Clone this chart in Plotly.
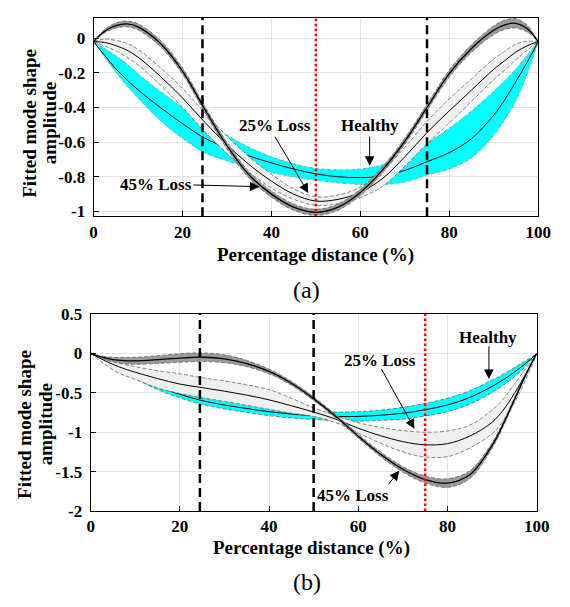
import plotly.graph_objects as go

# ---------------- data ----------------
x = [0, 2.5, 5, 7.5, 10, 15, 20, 25, 30, 35, 40, 45, 50, 55, 60, 65, 70, 75, 80, 85, 90, 92.5, 95, 97.5, 100]

# (a) top panel
a_healthy_mean = [-0.02, -0.10, -0.177, -0.24, -0.298, -0.40, -0.493, -0.577, -0.633, -0.68, -0.72, -0.755, -0.783, -0.80, -0.805, -0.795, -0.763, -0.713, -0.661, -0.58, -0.445, -0.355, -0.25, -0.14, -0.02]
a_healthy_up = [-0.02, -0.06, -0.102, -0.15, -0.205, -0.307, -0.40, -0.484, -0.56, -0.63, -0.685, -0.725, -0.752, -0.76, -0.755, -0.73, -0.68, -0.605, -0.52, -0.42, -0.307, -0.245, -0.177, -0.10, -0.02]
a_healthy_lo = [-0.02, -0.11, -0.195, -0.275, -0.345, -0.475, -0.577, -0.661, -0.708, -0.745, -0.775, -0.80, -0.82, -0.835, -0.845, -0.845, -0.83, -0.79, -0.755, -0.69, -0.56, -0.47, -0.36, -0.21, -0.02]

a_l25_mean = [-0.02, -0.025, -0.043, -0.07, -0.11, -0.22, -0.345, -0.485, -0.615, -0.73, -0.825, -0.90, -0.94, -0.93, -0.89, -0.81, -0.685, -0.545, -0.42, -0.30, -0.18, -0.13, -0.08, -0.045, -0.02]
a_l25_up = [-0.02, -0.005, -0.013, -0.03, -0.065, -0.17, -0.29, -0.43, -0.565, -0.685, -0.785, -0.87, -0.915, -0.905, -0.86, -0.765, -0.63, -0.48, -0.35, -0.235, -0.12, -0.075, -0.035, -0.018, -0.02]
a_l25_lo = [-0.02, -0.045, -0.073, -0.11, -0.155, -0.27, -0.40, -0.54, -0.665, -0.775, -0.865, -0.93, -0.965, -0.955, -0.92, -0.855, -0.74, -0.61, -0.49, -0.365, -0.24, -0.185, -0.125, -0.07, -0.02]

a_l45_mean = [-0.02, 0.04, 0.072, 0.082, 0.065, -0.03, -0.19, -0.41, -0.62, -0.79, -0.90, -0.975, -1.005, -0.975, -0.89, -0.76, -0.595, -0.40, -0.205, -0.06, 0.045, 0.077, 0.085, 0.055, -0.02]
a_l45_up = [-0.02, 0.05, 0.087, 0.099, 0.083, -0.012, -0.172, -0.392, -0.602, -0.772, -0.882, -0.957, -0.987, -0.957, -0.872, -0.742, -0.577, -0.382, -0.185, -0.038, 0.07, 0.104, 0.112, 0.075, -0.02]
a_l45_lo = [-0.02, 0.03, 0.057, 0.065, 0.047, -0.048, -0.208, -0.428, -0.638, -0.808, -0.918, -0.993, -1.023, -0.993, -0.908, -0.778, -0.613, -0.418, -0.225, -0.082, 0.02, 0.05, 0.058, 0.035, -0.02]

# (b) bottom panel
b_healthy_mean = [0.0, -0.075, -0.15, -0.22, -0.29, -0.42, -0.52, -0.60, -0.655, -0.70, -0.74, -0.77, -0.79, -0.80, -0.80, -0.785, -0.76, -0.715, -0.655, -0.56, -0.42, -0.335, -0.24, -0.13, -0.01]
b_healthy_up = [0.0, -0.065, -0.13, -0.195, -0.26, -0.38, -0.475, -0.55, -0.605, -0.65, -0.69, -0.72, -0.74, -0.745, -0.74, -0.72, -0.685, -0.635, -0.57, -0.475, -0.34, -0.265, -0.18, -0.095, -0.01]
b_healthy_lo = [0.0, -0.085, -0.17, -0.245, -0.32, -0.46, -0.565, -0.65, -0.705, -0.75, -0.79, -0.82, -0.84, -0.855, -0.86, -0.85, -0.835, -0.795, -0.74, -0.645, -0.50, -0.405, -0.30, -0.165, -0.01]

b_l25_mean = [0.0, -0.075, -0.14, -0.195, -0.24, -0.32, -0.39, -0.435, -0.48, -0.53, -0.59, -0.665, -0.745, -0.835, -0.95, -1.045, -1.12, -1.16, -1.145, -1.05, -0.875, -0.72, -0.51, -0.27, -0.01]
b_l25_up = [0.0, -0.055, -0.10, -0.14, -0.17, -0.22, -0.26, -0.31, -0.35, -0.40, -0.46, -0.57, -0.69, -0.79, -0.88, -0.94, -0.98, -1.00, -0.985, -0.91, -0.72, -0.58, -0.39, -0.20, -0.01]
b_l25_lo = [0.0, -0.11, -0.21, -0.28, -0.33, -0.44, -0.51, -0.565, -0.61, -0.66, -0.71, -0.76, -0.80, -0.88, -1.01, -1.14, -1.25, -1.315, -1.31, -1.20, -1.02, -0.86, -0.63, -0.34, -0.01]

b_l45_mean = [0.0, -0.05, -0.08, -0.093, -0.095, -0.08, -0.06, -0.05, -0.07, -0.13, -0.23, -0.38, -0.575, -0.80, -1.05, -1.28, -1.47, -1.60, -1.645, -1.54, -1.17, -0.90, -0.59, -0.28, 0.0]
b_l45_up = [0.0, -0.035, -0.05, -0.053, -0.05, -0.03, -0.005, 0.005, -0.02, -0.09, -0.20, -0.355, -0.553, -0.778, -1.025, -1.25, -1.435, -1.555, -1.59, -1.49, -1.135, -0.87, -0.568, -0.268, 0.0]
b_l45_lo = [0.0, -0.065, -0.11, -0.133, -0.14, -0.13, -0.115, -0.105, -0.12, -0.17, -0.26, -0.405, -0.597, -0.822, -1.075, -1.31, -1.505, -1.645, -1.70, -1.59, -1.205, -0.93, -0.612, -0.292, 0.0]

x_ticks = [0, 20, 40, 60, 80, 100]
a_y_ticks = [0, -0.2, -0.4, -0.6, -0.8, -1]
a_y_labels = ["0", "-0.2", "-0.4", "-0.6", "-0.8", "-1"]
b_y_ticks = [0.5, 0, -0.5, -1, -1.5, -2]
b_y_labels = ["0.5", "0", "-0.5", "-1", "-1.5", "-2"]

a_dashed_x = [24.5, 75]
a_dotted_x = [50]
b_dashed_x = [24.5, 50]
b_dotted_x = [75]

# ---------------- styling ----------------
FONT = "Liberation Serif, Times New Roman, serif"
CYAN = "#00ffff"
LIGHT = "#efefef"
DARK = "#9a9a9a"
EDGE = "#555555"

fig = go.Figure()


def add_band(up, lo, mean, fill, xa, ya, edge_color=EDGE, mean_w=1.0):
    fig.add_trace(go.Scatter(x=x, y=up, mode="lines", xaxis=xa, yaxis=ya,
                             line=dict(color=edge_color, width=0.7, dash="4px,2px", shape="spline"),
                             hoverinfo="skip", showlegend=False))
    fig.add_trace(go.Scatter(x=x, y=lo, mode="lines", xaxis=xa, yaxis=ya, fill="tonexty",
                             fillcolor=fill,
                             line=dict(color=edge_color, width=0.7, dash="4px,2px", shape="spline"),
                             hoverinfo="skip", showlegend=False))
    fig.add_trace(go.Scatter(x=x, y=mean, mode="lines", xaxis=xa, yaxis=ya,
                             line=dict(color="black", width=mean_w, shape="spline"),
                             hoverinfo="skip", showlegend=False))


add_band(a_healthy_up, a_healthy_lo, a_healthy_mean, CYAN, "x", "y", edge_color="#4aa0a0")
add_band(a_l25_up, a_l25_lo, a_l25_mean, LIGHT, "x", "y")
add_band(a_l45_up, a_l45_lo, a_l45_mean, DARK, "x", "y", mean_w=1.3)

add_band(b_healthy_up, b_healthy_lo, b_healthy_mean, CYAN, "x2", "y2")
add_band(b_l25_up, b_l25_lo, b_l25_mean, LIGHT, "x2", "y2")
add_band(b_l45_up, b_l45_lo, b_l45_mean, DARK, "x2", "y2", mean_w=1.3)

shapes = []
for xv in a_dashed_x:
    shapes.append(dict(type="line", xref="x", yref="y domain", x0=xv, x1=xv, y0=0, y1=1,
                       line=dict(color="black", width=2.5, dash="9px,5px")))
for xv in a_dotted_x:
    shapes.append(dict(type="line", xref="x", yref="y domain", x0=xv, x1=xv, y0=0, y1=1,
                       line=dict(color="red", width=2.5, dash="2.5px,2.5px")))
for xv in b_dashed_x:
    shapes.append(dict(type="line", xref="x2", yref="y2 domain", x0=xv, x1=xv, y0=0, y1=1,
                       line=dict(color="black", width=2.5, dash="9px,5px")))
for xv in b_dotted_x:
    shapes.append(dict(type="line", xref="x2", yref="y2 domain", x0=xv, x1=xv, y0=0, y1=1,
                       line=dict(color="red", width=2.5, dash="2.5px,2.5px")))

lab_font = dict(family=FONT, size=17, color="black", weight="bold")
ann = []


def label(text, xv, yv, xr, yr):
    ann.append(dict(text=text, x=xv, y=yv, xref=xr, yref=yr, showarrow=False,
                    font=lab_font, xanchor="center", yanchor="middle"))


def arrow(x0, y0, x1, y1, xr, yr):
    ann.append(dict(text="", x=x1, y=y1, ax=x0, ay=y0, xref=xr, yref=yr, axref=xr, ayref=yr,
                    showarrow=True, arrowhead=2, arrowsize=1.9, arrowwidth=1, arrowcolor="black"))


# panel (a)
label("25% Loss", 40.9, -0.503, "x", "y")
arrow(40.6, -0.56, 48.3, -0.894, "x", "y")
label("Healthy", 62.2, -0.503, "x", "y")
arrow(62.1, -0.56, 62.1, -0.736, "x", "y")
label("45% Loss", 14.0, -0.847, "x", "y")
arrow(22.1, -0.847, 37.3, -0.857, "x", "y")
# panel (b)
label("Healthy", 89.2, 0.198, "x2", "y2")
arrow(89.3, 0.107, 89.3, -0.327, "x2", "y2")
label("25% Loss", 64.9, -0.097, "x2", "y2")
arrow(65.0, -0.179, 72.6, -0.956, "x2", "y2")
label("45% Loss", 58.9, -1.80, "x2", "y2")
arrow(66.5, -1.68, 69.2, -1.49, "x2", "y2")

W, H = 570, 607
title_font = dict(family=FONT, size=19, color="black", weight="bold")


def paper_text(text, px, py, font, angle=0):
    ann.append(dict(text=text, x=px / W, y=1 - py / H, xref="paper", yref="paper", showarrow=False,
                    font=font, xanchor="center", yanchor="middle", textangle=angle))


paper_text("Percentage distance (%)", 320.8, 253.5, title_font)
paper_text("Percentage distance (%)", 316.7, 556, title_font)
paper_text("Fitted mode shape", 26, 118.3, title_font, -90)
paper_text("amplitude", 47, 118.3, title_font, -90)
paper_text("Fitted mode shape", 21, 429, title_font, -90)
paper_text("amplitude", 43, 429, title_font, -90)
paper_text("(a)", 312, 290, dict(family=FONT, size=24, color="black"))
paper_text("(b)", 312.5, 591, dict(family=FONT, size=24, color="black"))

tick_font = dict(family=FONT, size=17, color="black", weight="bold")
axis_common = dict(showline=True, linecolor="black", linewidth=1, mirror=True,
                   ticks="inside", ticklen=5, tickcolor="black",
                   showgrid=True, gridcolor="#e3e3e3", gridwidth=1,
                   zeroline=False, tickfont=tick_font)

fig.update_layout(
    width=W, height=H,
    margin=dict(l=0, r=0, t=0, b=0),
    paper_bgcolor="white", plot_bgcolor="white",
    showlegend=False,
    font=dict(family=FONT),
    xaxis=dict(domain=[92.3 / W, 550.6 / W], range=[0, 100], tickvals=x_ticks, anchor="y", **axis_common),
    yaxis=dict(domain=[1 - 214 / H, 1 - 9.3 / H], range=[-1.028, 0.116], tickvals=a_y_ticks,
               ticktext=a_y_labels, anchor="x", ticklabelstandoff=4, **axis_common),
    xaxis2=dict(domain=[89.3 / W, 549 / W], range=[0, 100], tickvals=x_ticks, anchor="y2", **axis_common),
    yaxis2=dict(domain=[1 - 518.3 / H, 1 - 314.7 / H], range=[-2, 0.5], tickvals=b_y_ticks,
                ticktext=b_y_labels, anchor="x2", ticklabelstandoff=4, **axis_common),
    shapes=shapes,
    annotations=ann,
)

fig.write_html("out.html")
